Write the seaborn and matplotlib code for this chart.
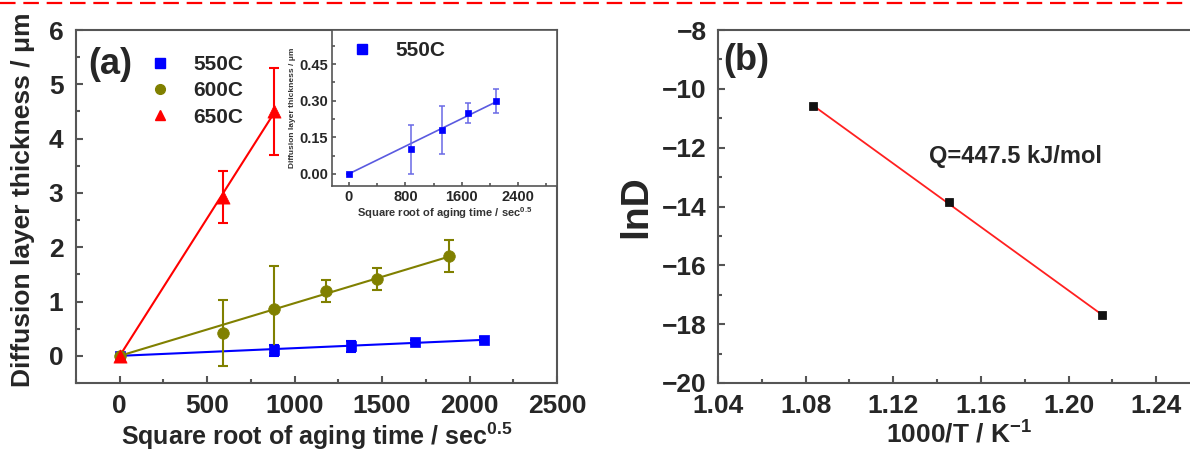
import numpy as np
import pandas as pd
import matplotlib
matplotlib.use("Agg")
import matplotlib.pyplot as plt
from matplotlib.lines import Line2D
from matplotlib.ticker import MultipleLocator, FormatStrFormatter
import seaborn as sns

# ---- diffusion layer growth (panel a) ----
t550 = [0, 880, 1320, 1690, 2080]
d550 = [0.0, 0.10, 0.18, 0.25, 0.30]
e550 = [0.0, 0.10, 0.10, 0.04, 0.05]

t600 = [0, 590, 880, 1180, 1470, 1880]
d600 = [0.0, 0.42, 0.86, 1.20, 1.42, 1.84]
e600 = [0.0, 0.60, 0.80, 0.20, 0.20, 0.30]

t650 = [0, 590, 880]
d650 = [0.0, 2.93, 4.50]
e650 = [0.0, 0.48, 0.80]

series_labels = ["550C", "600C", "650C"]
series_colors = ["#0000ff", "#808000", "#ff0000"]
series_markers = ["s", "o", "^"]

# ---- Arrhenius plot (panel b) ----
inv_T = [1.0834, 1.1455, 1.2151]
ln_D = [-10.6, -13.85, -17.7]
q_label = "Q=447.5 kJ/mol"

sns.set_theme(style="ticks")
plt.rcParams["font.family"] = ["Liberation Sans", "DejaVu Sans"]
plt.rcParams["font.weight"] = "bold"
plt.rcParams["mathtext.fontset"] = "custom"
plt.rcParams["mathtext.rm"] = "Liberation Sans:bold"
plt.rcParams["mathtext.bf"] = "Liberation Sans:bold"
plt.rcParams["mathtext.it"] = "Liberation Sans:bold"
plt.rcParams["mathtext.default"] = "bf"
plt.rcParams["axes.unicode_minus"] = True

W, H = 1190, 459
fig = plt.figure(figsize=(W / 100, H / 100), dpi=100)


def frac(x0, y0, x1, y1):
    """pixel box (left, top, right, bottom) -> figure fraction rect"""
    return [x0 / W, 1 - y1 / H, (x1 - x0) / W, (y1 - y0) / H]


SPINE = "#555555"


def style_axes(ax, size, width=1.5):
    for s in ax.spines.values():
        s.set_color(SPINE)
        s.set_linewidth(width)
    ax.tick_params(which="both", direction="in", color=SPINE, width=width,
                   labelsize=size, top=False, right=False)
    ax.tick_params(which="major", length=5)
    ax.tick_params(which="minor", length=3)
    for lab in ax.get_xticklabels() + ax.get_yticklabels():
        lab.set_fontweight("bold")


def origin_fit(x, y):
    x = np.asarray(x, float)
    y = np.asarray(y, float)
    k = (x * y).sum() / (x * x).sum()
    xs = np.array([0.0, x.max()])
    return xs, k * xs


# ---------------- panel (a) ----------------
ax = fig.add_axes(frac(76, 30, 557, 383))
groups = [(t550, d550, e550), (t600, d600, e600), (t650, d650, e650)]
handles = []
for (t, d, e), lab, col, mk in zip(groups, series_labels, series_colors, series_markers):
    fx, fy = origin_fit(t, d)
    sns.lineplot(x=fx, y=fy, ax=ax, color=col, lw=1.5, legend=False)
    ax.errorbar(t, d, yerr=e, fmt="none", ecolor=col, elinewidth=1.5,
                capsize=3.5, capthick=1.5)
    ms = {"s": 50, "o": 70, "^": 90}[mk]
    sns.scatterplot(x=t, y=d, ax=ax, color=col, marker=mk, s=ms,
                    edgecolor=col, linewidth=0.5, legend=False, zorder=5)
    handles.append(Line2D([], [], ls="none", marker=mk, color=col,
                          markersize=7, markeredgecolor=col))

ax.set_xlim(-250, 2500)
ax.set_ylim(-0.5, 6)
ax.xaxis.set_major_locator(MultipleLocator(500))
ax.xaxis.set_minor_locator(MultipleLocator(250))
ax.yaxis.set_major_locator(MultipleLocator(1))
ax.yaxis.set_minor_locator(MultipleLocator(0.5))
style_axes(ax, 19)
ax.tick_params(axis="x", pad=8)
ax.tick_params(axis="y", pad=9)
ax.set_xlabel(r"Square root of aging time / sec$^{0.5}$", fontsize=18,
              fontweight="bold", labelpad=2)
ax.set_ylabel("Diffusion layer thickness / μm", fontsize=19,
              fontweight="bold")
ax.yaxis.set_label_coords(-41 / 481, (383 - 200) / 353)
ax.legend(handles, series_labels, loc="upper left",
          bbox_to_anchor=(150 / W, 1 - 55 / H), bbox_transform=fig.transFigure,
          frameon=False, borderpad=0, borderaxespad=0, handlelength=1.0,
          handletextpad=1.1, labelspacing=0.35,
          prop={"size": 15, "weight": "bold"})
fig.text(88 / W, 1 - 64 / H, "(a)", fontsize=26, fontweight="bold",
         ha="left", va="center")

# ---------------- inset: 550C only ----------------
axi = fig.add_axes(frac(332, 30, 557, 186))
fx, fy = origin_fit(t550, d550)
sns.lineplot(x=fx, y=fy, ax=axi, color="#5a5ae0", lw=1.2, legend=False)
axi.errorbar(t550, d550, yerr=e550, fmt="none", ecolor="#6a6ae6",
             elinewidth=1.1, capsize=2.5, capthick=1.1)
sns.scatterplot(x=t550, y=d550, ax=axi, color="#0000ff", marker="s", s=24,
                edgecolor="#0000ff", linewidth=0.5, legend=False, zorder=5)
axi.set_xlim(-240, 2950)
axi.set_ylim(-0.05, 0.59)
axi.xaxis.set_major_locator(MultipleLocator(800))
axi.xaxis.set_minor_locator(MultipleLocator(400))
axi.yaxis.set_major_locator(MultipleLocator(0.15))
axi.yaxis.set_minor_locator(MultipleLocator(0.075))
axi.yaxis.set_major_formatter(FormatStrFormatter("%.2f"))
style_axes(axi, 10.5, width=1.2)
axi.tick_params(which="major", length=3)
axi.tick_params(which="minor", length=2)
axi.tick_params(axis="both", pad=3)
axi.set_xlabel(r"Square root of aging time / sec$^{0.5}$", fontsize=8,
               fontweight="bold", labelpad=1, color="#333333")
axi.set_ylabel("Diffusion layer thickness / μm", fontsize=6,
               fontweight="bold", labelpad=2, color="#333333")
axi.legend([Line2D([], [], ls="none", marker="s", color="#0000ff", markersize=7)],
           [series_labels[0]], loc="upper left",
           bbox_to_anchor=(352 / W, 1 - 41 / H), bbox_transform=fig.transFigure,
           frameon=False, borderpad=0, borderaxespad=0, handlelength=1.0,
           handletextpad=1.1, prop={"size": 15, "weight": "bold"})

# ---------------- panel (b) ----------------
axb = fig.add_axes(frac(718, 30, 1200, 383))
coef = np.polyfit(inv_T, ln_D, 1)
fxb = np.array([min(inv_T), max(inv_T)])
sns.lineplot(x=fxb, y=np.polyval(coef, fxb), ax=axb, color="#ff2020", lw=1.3,
             legend=False)
sns.scatterplot(x=inv_T, y=ln_D, ax=axb, color="#111111", marker="s", s=40,
                edgecolor="#000000", linewidth=0.5, legend=False, zorder=5)
axb.set_xlim(1.04, 1.26)
axb.set_ylim(-20, -8)
axb.xaxis.set_major_locator(MultipleLocator(0.04))
axb.xaxis.set_minor_locator(MultipleLocator(0.02))
axb.xaxis.set_major_formatter(FormatStrFormatter("%.2f"))
axb.yaxis.set_major_locator(MultipleLocator(2))
axb.yaxis.set_minor_locator(MultipleLocator(1))
style_axes(axb, 19)
axb.tick_params(axis="x", pad=8)
axb.tick_params(axis="y", pad=8)
axb.set_xlabel(r"1000/T / K$^{-1}$", fontsize=19, fontweight="bold", labelpad=2)
axb.set_ylabel("lnD", fontsize=28, fontweight="bold", labelpad=6)
axb.text(1.1365, -12.3, q_label, fontsize=17, fontweight="bold",
         ha="left", va="center")
fig.text(723 / W, 1 - 60 / H, "(b)", fontsize=26, fontweight="bold",
         ha="left", va="center")

# dashed rule across the top of the figure
fig.add_artist(Line2D([0, 1], [1 - 3 / H, 1 - 3 / H], transform=fig.transFigure,
                      color="#ff0000", lw=1.6, ls=(0, (7, 3.5))))

fig.savefig("out.png", dpi=100)
